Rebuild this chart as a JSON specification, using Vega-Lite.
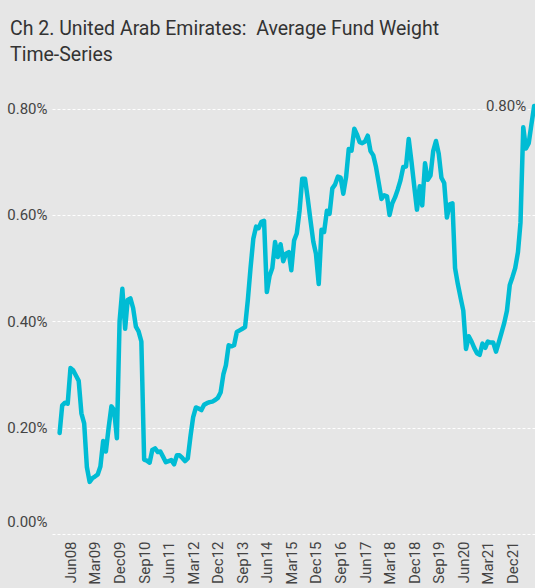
{
  "$schema": "https://vega.github.io/schema/vega-lite/v6.json",
  "width": 483,
  "height": 452,
  "autosize": {"type": "none"},
  "padding": {"left": 52, "top": 82, "right": 0, "bottom": 54},
  "background": "#e6e6e6",
  "config": {"view": {"stroke": null}, "font": "Roboto"},
  "title": {
    "text": ["Ch 2. United Arab Emirates:\u00a0 Average Fund Weight", "Time-Series"],
    "anchor": "start",
    "frame": "group",
    "dx": -42,
    "fontSize": 19.5,
    "fontWeight": "normal",
    "font": "Roboto",
    "color": "#333333",
    "lineHeight": 26,
    "offset": 17
  },
  "datasets": {
    "series": [
      {"date": "2008-02-01", "value": 0.00190},
      {"date": "2008-03-01", "value": 0.00242},
      {"date": "2008-04-01", "value": 0.00247},
      {"date": "2008-05-01", "value": 0.00245},
      {"date": "2008-06-01", "value": 0.00312},
      {"date": "2008-07-01", "value": 0.00308},
      {"date": "2008-08-01", "value": 0.00298},
      {"date": "2008-09-01", "value": 0.00288},
      {"date": "2008-10-01", "value": 0.00227},
      {"date": "2008-11-01", "value": 0.00208},
      {"date": "2008-12-01", "value": 0.00126},
      {"date": "2009-01-01", "value": 0.00098},
      {"date": "2009-02-01", "value": 0.00105},
      {"date": "2009-03-01", "value": 0.00108},
      {"date": "2009-04-01", "value": 0.00112},
      {"date": "2009-05-01", "value": 0.00127},
      {"date": "2009-06-01", "value": 0.00175},
      {"date": "2009-07-01", "value": 0.00155},
      {"date": "2009-08-01", "value": 0.00200},
      {"date": "2009-09-01", "value": 0.00240},
      {"date": "2009-10-01", "value": 0.00233},
      {"date": "2009-11-01", "value": 0.00180},
      {"date": "2009-12-01", "value": 0.00400},
      {"date": "2010-01-01", "value": 0.00461},
      {"date": "2010-02-01", "value": 0.00386},
      {"date": "2010-03-01", "value": 0.00440},
      {"date": "2010-04-01", "value": 0.00443},
      {"date": "2010-05-01", "value": 0.00425},
      {"date": "2010-06-01", "value": 0.00390},
      {"date": "2010-07-01", "value": 0.00381},
      {"date": "2010-08-01", "value": 0.00362},
      {"date": "2010-09-01", "value": 0.00140},
      {"date": "2010-10-01", "value": 0.00138},
      {"date": "2010-11-01", "value": 0.00134},
      {"date": "2010-12-01", "value": 0.00158},
      {"date": "2011-01-01", "value": 0.00161},
      {"date": "2011-02-01", "value": 0.00154},
      {"date": "2011-03-01", "value": 0.00155},
      {"date": "2011-04-01", "value": 0.00145},
      {"date": "2011-05-01", "value": 0.00135},
      {"date": "2011-06-01", "value": 0.00137},
      {"date": "2011-07-01", "value": 0.00139},
      {"date": "2011-08-01", "value": 0.00131},
      {"date": "2011-09-01", "value": 0.00148},
      {"date": "2011-10-01", "value": 0.00148},
      {"date": "2011-11-01", "value": 0.00143},
      {"date": "2011-12-01", "value": 0.00137},
      {"date": "2012-01-01", "value": 0.00142},
      {"date": "2012-02-01", "value": 0.00185},
      {"date": "2012-03-01", "value": 0.00220},
      {"date": "2012-04-01", "value": 0.00238},
      {"date": "2012-05-01", "value": 0.00236},
      {"date": "2012-06-01", "value": 0.00233},
      {"date": "2012-07-01", "value": 0.00243},
      {"date": "2012-08-01", "value": 0.00246},
      {"date": "2012-09-01", "value": 0.00248},
      {"date": "2012-10-01", "value": 0.00249},
      {"date": "2012-11-01", "value": 0.00252},
      {"date": "2012-12-01", "value": 0.00256},
      {"date": "2013-01-01", "value": 0.00266},
      {"date": "2013-02-01", "value": 0.00300},
      {"date": "2013-03-01", "value": 0.00317},
      {"date": "2013-04-01", "value": 0.00355},
      {"date": "2013-05-01", "value": 0.00353},
      {"date": "2013-06-01", "value": 0.00355},
      {"date": "2013-07-01", "value": 0.00380},
      {"date": "2013-08-01", "value": 0.00383},
      {"date": "2013-09-01", "value": 0.00386},
      {"date": "2013-10-01", "value": 0.00389},
      {"date": "2013-11-01", "value": 0.00440},
      {"date": "2013-12-01", "value": 0.00500},
      {"date": "2014-01-01", "value": 0.00555},
      {"date": "2014-02-01", "value": 0.00578},
      {"date": "2014-03-01", "value": 0.00575},
      {"date": "2014-04-01", "value": 0.00587},
      {"date": "2014-05-01", "value": 0.00589},
      {"date": "2014-06-01", "value": 0.00455},
      {"date": "2014-07-01", "value": 0.00485},
      {"date": "2014-08-01", "value": 0.00500},
      {"date": "2014-09-01", "value": 0.00549},
      {"date": "2014-10-01", "value": 0.00521},
      {"date": "2014-11-01", "value": 0.00545},
      {"date": "2014-12-01", "value": 0.00513},
      {"date": "2015-01-01", "value": 0.00527},
      {"date": "2015-02-01", "value": 0.00530},
      {"date": "2015-03-01", "value": 0.00496},
      {"date": "2015-04-01", "value": 0.00552},
      {"date": "2015-05-01", "value": 0.00565},
      {"date": "2015-06-01", "value": 0.00608},
      {"date": "2015-07-01", "value": 0.00668},
      {"date": "2015-08-01", "value": 0.00668},
      {"date": "2015-09-01", "value": 0.00630},
      {"date": "2015-10-01", "value": 0.00590},
      {"date": "2015-11-01", "value": 0.00550},
      {"date": "2015-12-01", "value": 0.00527},
      {"date": "2016-01-01", "value": 0.00470},
      {"date": "2016-02-01", "value": 0.00572},
      {"date": "2016-03-01", "value": 0.00568},
      {"date": "2016-04-01", "value": 0.00608},
      {"date": "2016-05-01", "value": 0.00602},
      {"date": "2016-06-01", "value": 0.00650},
      {"date": "2016-07-01", "value": 0.00657},
      {"date": "2016-08-01", "value": 0.00672},
      {"date": "2016-09-01", "value": 0.00670},
      {"date": "2016-10-01", "value": 0.00640},
      {"date": "2016-11-01", "value": 0.00671},
      {"date": "2016-12-01", "value": 0.00724},
      {"date": "2017-01-01", "value": 0.00721},
      {"date": "2017-02-01", "value": 0.00762},
      {"date": "2017-03-01", "value": 0.00752},
      {"date": "2017-04-01", "value": 0.00737},
      {"date": "2017-05-01", "value": 0.00735},
      {"date": "2017-06-01", "value": 0.00738},
      {"date": "2017-07-01", "value": 0.00749},
      {"date": "2017-08-01", "value": 0.00720},
      {"date": "2017-09-01", "value": 0.00712},
      {"date": "2017-10-01", "value": 0.00690},
      {"date": "2017-11-01", "value": 0.00660},
      {"date": "2017-12-01", "value": 0.00630},
      {"date": "2018-01-01", "value": 0.00637},
      {"date": "2018-02-01", "value": 0.00635},
      {"date": "2018-03-01", "value": 0.00600},
      {"date": "2018-04-01", "value": 0.00622},
      {"date": "2018-05-01", "value": 0.00633},
      {"date": "2018-06-01", "value": 0.00648},
      {"date": "2018-07-01", "value": 0.00665},
      {"date": "2018-08-01", "value": 0.00690},
      {"date": "2018-09-01", "value": 0.00691},
      {"date": "2018-10-01", "value": 0.00743},
      {"date": "2018-11-01", "value": 0.00700},
      {"date": "2018-12-01", "value": 0.00655},
      {"date": "2019-01-01", "value": 0.00610},
      {"date": "2019-02-01", "value": 0.00654},
      {"date": "2019-03-01", "value": 0.00618},
      {"date": "2019-04-01", "value": 0.00697},
      {"date": "2019-05-01", "value": 0.00666},
      {"date": "2019-06-01", "value": 0.00674},
      {"date": "2019-07-01", "value": 0.00720},
      {"date": "2019-08-01", "value": 0.00739},
      {"date": "2019-09-01", "value": 0.00715},
      {"date": "2019-10-01", "value": 0.00670},
      {"date": "2019-11-01", "value": 0.00660},
      {"date": "2019-12-01", "value": 0.00595},
      {"date": "2020-01-01", "value": 0.00620},
      {"date": "2020-02-01", "value": 0.00622},
      {"date": "2020-03-01", "value": 0.00500},
      {"date": "2020-04-01", "value": 0.00470},
      {"date": "2020-05-01", "value": 0.00445},
      {"date": "2020-06-01", "value": 0.00420},
      {"date": "2020-07-01", "value": 0.00348},
      {"date": "2020-08-01", "value": 0.00372},
      {"date": "2020-09-01", "value": 0.00362},
      {"date": "2020-10-01", "value": 0.00350},
      {"date": "2020-11-01", "value": 0.00340},
      {"date": "2020-12-01", "value": 0.00337},
      {"date": "2021-01-01", "value": 0.00358},
      {"date": "2021-02-01", "value": 0.00350},
      {"date": "2021-03-01", "value": 0.00362},
      {"date": "2021-04-01", "value": 0.00360},
      {"date": "2021-05-01", "value": 0.00360},
      {"date": "2021-06-01", "value": 0.00343},
      {"date": "2021-07-01", "value": 0.00360},
      {"date": "2021-08-01", "value": 0.00378},
      {"date": "2021-09-01", "value": 0.00397},
      {"date": "2021-10-01", "value": 0.00420},
      {"date": "2021-11-01", "value": 0.00468},
      {"date": "2021-12-01", "value": 0.00483},
      {"date": "2022-01-01", "value": 0.00500},
      {"date": "2022-02-01", "value": 0.00530},
      {"date": "2022-03-01", "value": 0.00585},
      {"date": "2022-04-01", "value": 0.00765},
      {"date": "2022-05-01", "value": 0.00725},
      {"date": "2022-06-01", "value": 0.00735},
      {"date": "2022-07-01", "value": 0.00770},
      {"date": "2022-08-01", "value": 0.00805}
    ],
    "note": [
      {"date": "2022-08-01", "value": 0.00805, "label": "0.80%"}
    ]
  },
  "encoding": {
    "x": {
      "field": "date",
      "type": "temporal",
      "scale": {
        "type": "utc",
        "domain": [
          {"year": 2007, "month": 11, "date": 8, "utc": true},
          {"year": 2022, "month": 8, "date": 10, "utc": true}
        ]
      },
      "axis": {
        "title": null,
        "values": [
          {"year": 2008, "month": 6, "date": 1, "utc": true},
          {"year": 2009, "month": 3, "date": 1, "utc": true},
          {"year": 2009, "month": 12, "date": 1, "utc": true},
          {"year": 2010, "month": 9, "date": 1, "utc": true},
          {"year": 2011, "month": 6, "date": 1, "utc": true},
          {"year": 2012, "month": 3, "date": 1, "utc": true},
          {"year": 2012, "month": 12, "date": 1, "utc": true},
          {"year": 2013, "month": 9, "date": 1, "utc": true},
          {"year": 2014, "month": 6, "date": 1, "utc": true},
          {"year": 2015, "month": 3, "date": 1, "utc": true},
          {"year": 2015, "month": 12, "date": 1, "utc": true},
          {"year": 2016, "month": 9, "date": 1, "utc": true},
          {"year": 2017, "month": 6, "date": 1, "utc": true},
          {"year": 2018, "month": 3, "date": 1, "utc": true},
          {"year": 2018, "month": 12, "date": 1, "utc": true},
          {"year": 2019, "month": 9, "date": 1, "utc": true},
          {"year": 2020, "month": 6, "date": 1, "utc": true},
          {"year": 2021, "month": 3, "date": 1, "utc": true},
          {"year": 2021, "month": 12, "date": 1, "utc": true}
        ],
        "format": "%b%y",
        "labelAngle": -90,
        "labelAlign": "right",
        "labelBaseline": "middle",
        "labelPadding": 7,
        "labelFontSize": 15,
        "labelColor": "#444444",
        "labelOverlap": false,
        "ticks": false,
        "domain": false,
        "grid": false
      }
    },
    "y": {
      "field": "value",
      "type": "quantitative",
      "scale": {"domain": [0, 0.0085], "nice": false, "zero": true},
      "axis": {
        "title": null,
        "values": [0, 0.002, 0.004, 0.006, 0.008],
        "format": ".2%",
        "labelFontSize": 15,
        "labelColor": "#444444",
        "labelPadding": 5,
        "labelFlush": true,
        "labelFlushOffset": -5,
        "ticks": false,
        "domain": false,
        "grid": true,
        "gridColor": "#ffffff",
        "gridDash": [3, 2],
        "gridWidth": 1,
        "gridOpacity": 1
      }
    }
  },
  "layer": [
    {
      "data": {"name": "series"},
      "mark": {"type": "line", "color": "#00bcd4", "strokeWidth": 4.5, "strokeJoin": "round", "strokeCap": "round"}
    },
    {
      "data": {"name": "note"},
      "mark": {"type": "text", "align": "right", "baseline": "middle", "dx": -8, "fontSize": 15, "color": "#444444"},
      "encoding": {"text": {"field": "label"}}
    }
  ]
}
